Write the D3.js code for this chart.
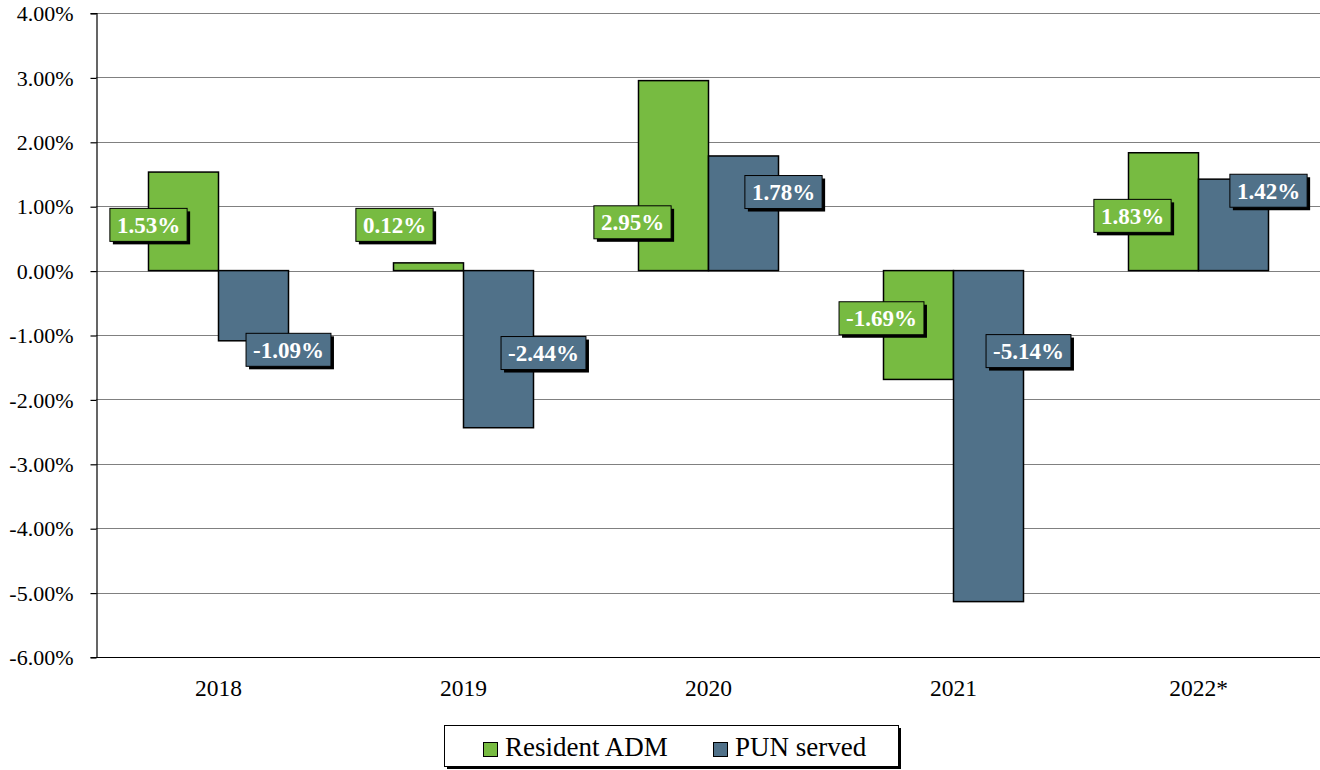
<!DOCTYPE html>
<html>
<head>
<meta charset="utf-8">
<script src="https://cdn.jsdelivr.net/npm/d3@7"></script>
<style>
  html, body { margin: 0; padding: 0; background: #ffffff; }
  svg { display: block; }
  svg text { font-family: "Liberation Serif", "Times New Roman", serif !important; }
</style>
</head>
<body>
<svg id="chart" width="1320" height="770"></svg>
<script>
// ---- data ----
const categories = ["2018", "2019", "2020", "2021", "2022*"];
const seriesNames = ["Resident ADM", "PUN served"];
const residentADM = [1.53, 0.12, 2.95, -1.69, 1.83];
const punServed = [-1.09, -2.44, 1.78, -5.14, 1.42];
const yTicks = [4, 3, 2, 1, 0, -1, -2, -3, -4, -5, -6];

// ---- layout ----
const colors = ["#77bb41", "#507189"];
// label anchor per series: horizontal nudge (px) from the bar's outer edge, vertical centre in axis units
const labelAnchors = [
  [[0, 0.71], [1, 0.71], [-6, 0.75], [-2, -0.74], [4, 0.85]],
  [[0, -1.23], [10, -1.28], [5, 1.22], [5, -1.25], [0, 1.24]]
];

const pct = v => d3.format(".2f")(v).replace("\u2212", "-") + "%";

const svg = d3.select("#chart");
const plot = { left: 96, right: 1321, top: 13, bottom: 657 };

const y = d3.scaleLinear().domain([-6, 4]).range([plot.bottom, plot.top]);
const x = d3.scaleBand().domain(categories).range([plot.left, plot.right]).padding(0);
const xs = d3.scaleBand().domain(d3.range(seriesNames.length))
  .range([52.5, x.bandwidth() - 52.5]).padding(0);

// gridlines
svg.append("g")
  .selectAll("line")
  .data(yTicks.filter(t => t !== -6))
  .join("line")
  .attr("x1", plot.left).attr("x2", 1320)
  .attr("y1", d => Math.round(y(d)) + 0.5).attr("y2", d => Math.round(y(d)) + 0.5)
  .attr("stroke", "#808080").attr("stroke-width", 1);

// y axis
const yAxis = d3.axisLeft(y).tickValues(yTicks).tickSize(6).tickPadding(17).tickFormat(pct);
const gy = svg.append("g").attr("transform", `translate(${plot.left + 0.5},0)`).call(yAxis)
  .attr("font-family", null);
gy.select(".domain").attr("stroke", "#000").attr("stroke-width", 1.2);
gy.selectAll(".tick line").attr("stroke", "#000").attr("stroke-width", 1.2)
  .attr("transform", "translate(0,0.5)");
gy.selectAll(".tick text").attr("font-size", 22).attr("fill", "#000").attr("dy", "0.35em");

// bottom axis line + category labels
const xAxis = d3.axisBottom(x).tickSize(0).tickPadding(22);
const gx = svg.append("g").attr("transform", `translate(0,${plot.bottom + 0.5})`).call(xAxis)
  .attr("font-family", null);
gx.select(".domain").attr("stroke", "#000").attr("stroke-width", 1.2)
  .attr("d", `M${plot.left},0H1320`);
gx.selectAll(".tick text").attr("font-size", 23.5).attr("fill", "#000");

// bars
const series = [residentADM, punServed];
const barG = svg.append("g");
series.forEach((vals, si) => {
  barG.selectAll(null)
    .data(vals.map((v, i) => ({ v, cat: categories[i] })))
    .join("rect")
    .attr("x", d => x(d.cat) + xs(si))
    .attr("width", xs.bandwidth())
    .attr("y", d => Math.min(y(d.v), y(0)))
    .attr("height", d => Math.abs(y(d.v) - y(0)))
    .attr("fill", colors[si])
    .attr("stroke", "#000")
    .attr("stroke-width", 1.5);
});

// value labels
const labelG = svg.append("g");
series.forEach((vals, si) => {
  vals.forEach((v, i) => {
    const edge = si === 0 ? x(categories[i]) + xs(0) : x(categories[i]) + xs(si) + xs.bandwidth();
    const [dx, ly] = labelAnchors[si][i];
    const cx = edge + dx;
    const cy = y(ly);
    const g = labelG.append("g");
    const t = g.append("text")
      .attr("x", cx).attr("y", cy + 8)
      .attr("text-anchor", "middle")
      .attr("font-size", 23).attr("font-weight", "bold")
      .attr("fill", "#ffffff")
      .text(pct(v));
    const w = t.node().getComputedTextLength() + 14;
    const h = 33;
    g.insert("rect", "text")
      .attr("x", cx - w / 2 + 3).attr("y", cy - h / 2 + 3)
      .attr("width", w).attr("height", h).attr("fill", "#000");
    g.insert("rect", "text")
      .attr("x", cx - w / 2).attr("y", cy - h / 2)
      .attr("width", w).attr("height", h)
      .attr("fill", colors[si]).attr("stroke", "#000").attr("stroke-width", 1);
  });
});

// legend
const legend = svg.append("g");
legend.append("rect").attr("x", 447).attr("y", 728).attr("width", 454).attr("height", 41).attr("fill", "#000");
legend.append("rect").attr("x", 444.5).attr("y", 725.5).attr("width", 454).attr("height", 41)
  .attr("fill", "#fff").attr("stroke", "#000").attr("stroke-width", 1);
const legendX = [483, 713];
seriesNames.forEach((name, i) => {
  legend.append("rect").attr("x", legendX[i] + 0.5).attr("y", 742.5).attr("width", 14).attr("height", 14)
    .attr("fill", colors[i]).attr("stroke", "#000").attr("stroke-width", 1);
  legend.append("text").attr("x", legendX[i] + 22).attr("y", 756)
    .attr("font-size", 27).attr("fill", "#000").text(name);
});
</script>
</body>
</html>
